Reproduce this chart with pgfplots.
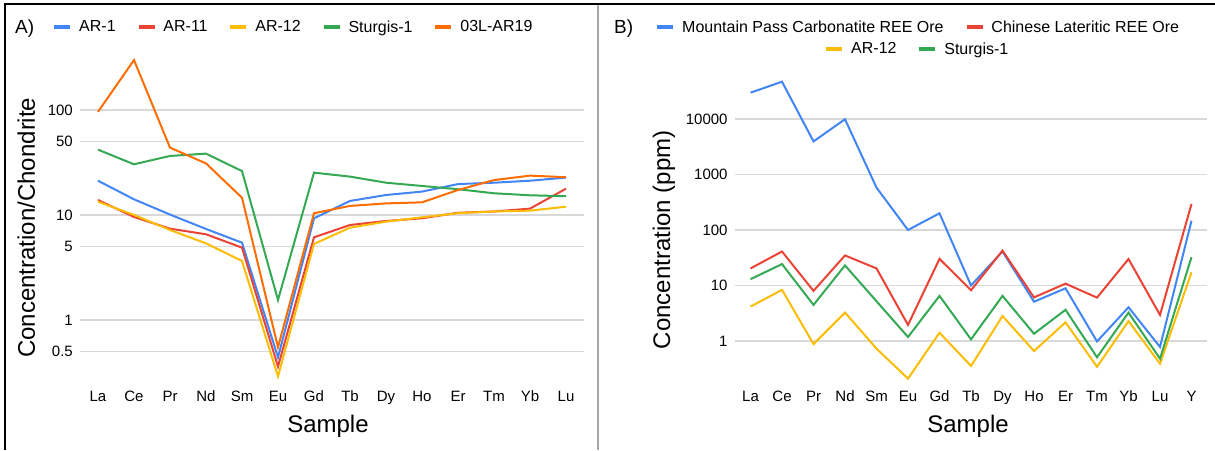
\documentclass[border=0pt]{standalone}
\usepackage{fontspec}
\setmainfont{Liberation Sans}
\usepackage{pgfplots}
\pgfplotsset{compat=1.18}

\definecolor{gblue}{HTML}{4285F4}
\definecolor{gred}{HTML}{EA4335}
\definecolor{gyellow}{HTML}{FBBC04}
\definecolor{ggreen}{HTML}{34A853}
\definecolor{gorange}{HTML}{FF6D01}
\definecolor{gridgray}{HTML}{D9D9D9}

\newcommand{\tickfont}{\fontsize{15}{18}\selectfont}
\newcommand{\legfont}{\fontsize{16}{19}\selectfont}
\newcommand{\labfont}{\fontsize{24}{28}\selectfont}
\newcommand{\panfont}{\fontsize{19}{22}\selectfont}

\pgfplotsset{
  gstyle/.style={
    scale only axis, clip=false,
    axis line style={draw=none},
    major tick length=0pt,
    tick style={draw=none},
    ymajorgrids, xmajorgrids=false,
    grid style={gridgray, line width=1.2pt},
    every axis plot/.append style={line width=2pt, mark=none},
    tick label style={font=\tickfont},
    yticklabel style={anchor=east, inner sep=0pt, xshift=-7pt},
    xticklabel style={anchor=base, inner sep=0pt},
    label style={font=\labfont},
    legend image code/.code={\draw[line width=4.5pt] (0pt,0pt) -- (16pt,0pt);},
    legend style={draw=none, fill=none, font=\legfont, inner sep=0pt, outer sep=0pt,
      column sep=4.7pt, /tikz/every even column/.append style={column sep=18.6pt},
      cells={anchor=west}},
    legend columns=-1,
  }
}

\begin{document}
\begin{tikzpicture}[x=1pt,y=1pt]
\path[use as bounding box] (0,0) rectangle (1215,450);
\draw[black, line width=2pt] (4.5,0) -- (4.5,445.5) -- (1215,445.5);
\draw[gray!70, line width=1.5pt] (598,0) -- (598,444.5);

\node[anchor=base west, font=\panfont, inner sep=0pt] at (15,416.7) {A)};
\node[anchor=base west, font=\panfont, inner sep=0pt] at (614,416.7) {B)};

% ---------------- Panel A ----------------
\begin{axis}[gstyle,
  at={(80pt,66.8pt)}, anchor=south west,
  width=504pt, height=323.3pt,
  xmin=-0.5, xmax=13.5,
  ymode=log, ymin=0.25, ymax=300,
  xtick={0,...,13},
  xticklabels={La,Ce,Pr,Nd,Sm,Eu,Gd,Tb,Dy,Ho,Er,Tm,Yb,Lu},
  xticklabel style={yshift=-18.2pt},
  ytick={0.5,1,5,10,50,100},
  yticklabels={0.5,1,5,10,50,100},
  xlabel={Sample},
  xlabel style={at={(axis description cs:0.492,-0.1528)}, anchor=base},
  ylabel={Concentration/Chondrite},
  ylabel style={at={(axis description cs:-0.0893,0.481)}, anchor=base},
  legend style={at={(axis description cs:-0.05556,1.1018)}, anchor=west},
]
\addplot[gblue] coordinates {(0,21.2)(1,14.1)(2,10.1)(3,7.36)(4,5.45)(5,0.44)(6,9.3)(7,13.6)(8,15.5)(9,16.7)(10,19.7)(11,20.3)(12,21.2)(13,22.7)};
\addlegendentry{AR-1}
\addplot[gred] coordinates {(0,13.9)(1,9.57)(2,7.41)(3,6.55)(4,4.89)(5,0.36)(6,6.13)(7,8.03)(8,8.77)(9,9.3)(10,10.5)(11,10.8)(12,11.5)(13,17.8)};
\addlegendentry{AR-11}
\addplot[gyellow] coordinates {(0,13.4)(1,10.0)(2,7.2)(3,5.37)(4,3.65)(5,0.29)(6,5.3)(7,7.57)(8,8.64)(9,9.5)(10,10.4)(11,10.8)(12,11.0)(13,12.0)};
\addlegendentry{AR-12}
\addplot[ggreen] coordinates {(0,41.9)(1,30.4)(2,36.5)(3,38.4)(4,26.2)(5,1.55)(6,25.3)(7,23.2)(8,20.3)(9,18.9)(10,17.6)(11,16.1)(12,15.4)(13,15.1)};
\addlegendentry{Sturgis-1}
\addplot[gorange] coordinates {(0,96)(1,299)(2,43.8)(3,31)(4,14.6)(5,0.55)(6,10.4)(7,12.2)(8,12.9)(9,13.2)(10,17.3)(11,21.5)(12,23.7)(13,22.9)};
\addlegendentry{03L-AR19}
\end{axis}

% ---------------- Panel B ----------------
\begin{axis}[gstyle,
  at={(734.75pt,70.2pt)}, anchor=south west,
  width=472.5pt, height=299.6pt,
  xmin=-0.5, xmax=14.5,
  ymode=log, ymin=0.2, ymax=50000,
  xtick={0,...,14},
  xticklabels={La,Ce,Pr,Nd,Sm,Eu,Gd,Tb,Dy,Ho,Er,Tm,Yb,Lu,Y},
  xticklabel style={yshift=-21.6pt},
  ytick={1,10,100,1000,10000},
  yticklabels={1,10,100,1000,10000},
  xlabel={Sample},
  xlabel style={at={(axis description cs:0.4937,-0.1762)}, anchor=base},
  ylabel={Concentration (ppm)},
  ylabel style={at={(axis description cs:-0.137,0.467)}, anchor=base},
  legend style={at={(axis description cs:-0.1688,1.1776)}, anchor=west},
]
\addplot[gblue] coordinates {(0,29800)(1,47000)(2,3950)(3,9900)(4,580)(5,100)(6,200)(7,10)(8,41)(9,5.1)(10,8.9)(11,0.98)(12,4.05)(13,0.78)(14,147)};
\addlegendentry{Mountain Pass Carbonatite REE Ore}
\addplot[gred] coordinates {(0,20.3)(1,41)(2,8.0)(3,34.8)(4,20.3)(5,1.95)(6,30.2)(7,8.2)(8,42.5)(9,6.1)(10,10.8)(11,6.05)(12,30)(13,2.95)(14,294)};
\addlegendentry{Chinese Lateritic REE Ore}
\addplot[gyellow, forget plot] coordinates {(0,4.17)(1,8.35)(2,0.88)(3,3.25)(4,0.73)(5,0.21)(6,1.41)(7,0.355)(8,2.82)(9,0.66)(10,2.17)(11,0.343)(12,2.28)(13,0.39)(14,17.3)};
\addplot[ggreen, forget plot] coordinates {(0,13)(1,24.3)(2,4.47)(3,23)(4,5.2)(5,1.18)(6,6.5)(7,1.07)(8,6.5)(9,1.35)(10,3.65)(11,0.51)(12,3.25)(13,0.48)(14,32.5)};
\end{axis}

% second legend row of panel B
\begin{axis}[gstyle, hide axis,
  at={(734.75pt,70.2pt)}, anchor=south west,
  width=472.5pt, height=299.6pt,
  xmin=0, xmax=1, ymin=0, ymax=1,
  legend style={at={(axis description cs:0.1889,1.1041)}, anchor=west},
]
\addlegendimage{gyellow, line width=2pt}
\addlegendentry{AR-12}
\addlegendimage{ggreen, line width=2pt}
\addlegendentry{Sturgis-1}
\end{axis}
\end{tikzpicture}
\end{document}
